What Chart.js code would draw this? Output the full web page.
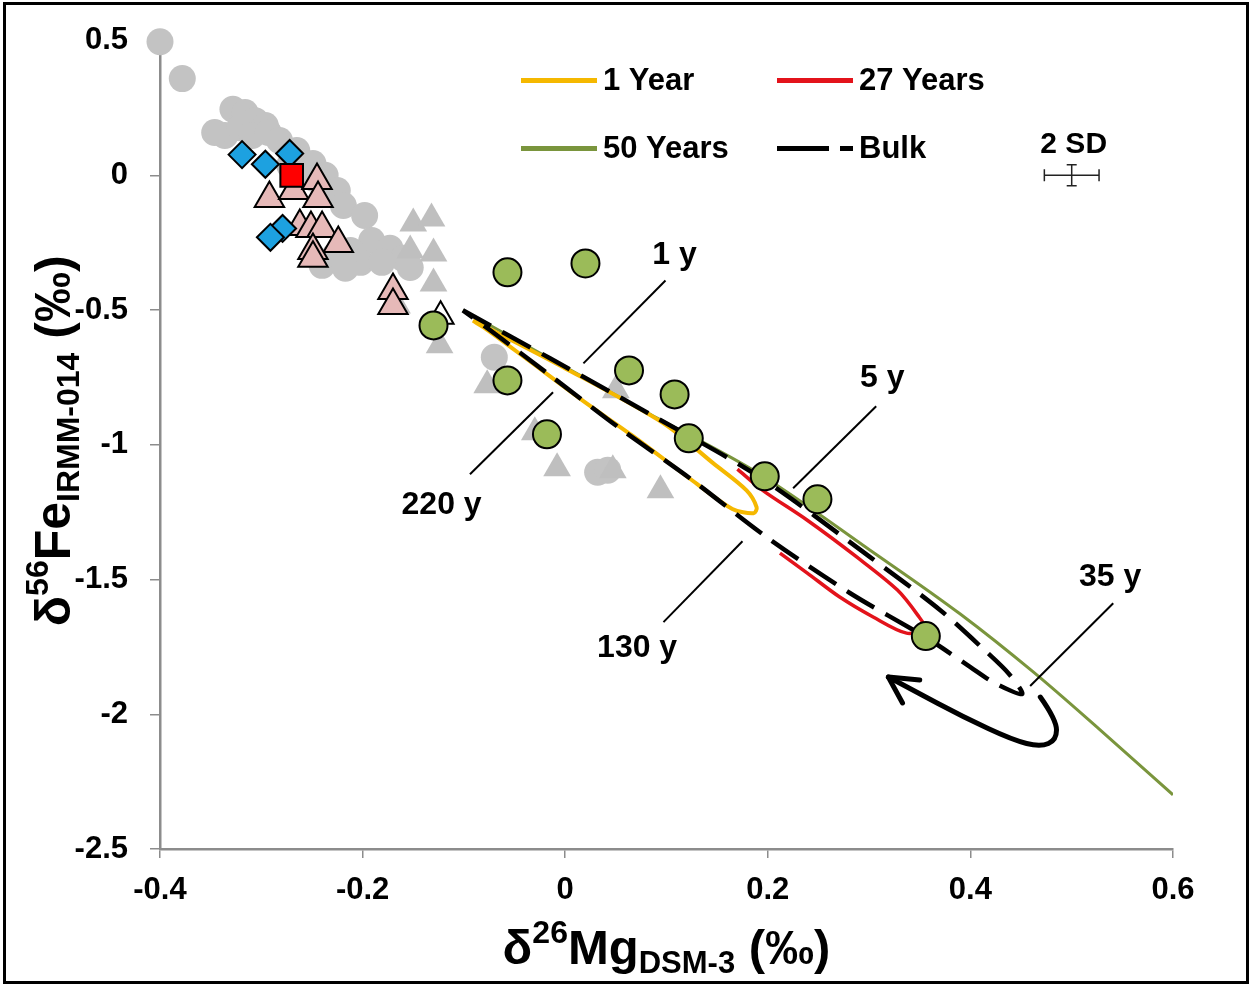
<!DOCTYPE html>
<html>
<head>
<meta charset="utf-8">
<script src="https://cdn.jsdelivr.net/npm/chart.js@4.4.1/dist/chart.umd.min.js"></script>
<style>
  html, body { margin: 0; padding: 0; background: #fff; }
  #wrap { width: 1252px; height: 986px; }
</style>
</head>
<body>
<div id="wrap"><canvas id="chart" width="1252" height="986"></canvas></div>
<script>
// samples: x = d26Mg (permil), y = d56Fe (permil)
const grayCircleX = [-0.400, -0.378, -0.328, -0.336, -0.346, -0.316, -0.321, -0.306, -0.296, -0.309, -0.293, -0.282, -0.265, -0.272, -0.249, -0.248, -0.237, -0.225, -0.219, -0.198, -0.191, -0.173, -0.160, -0.212, -0.202, -0.227, -0.240, -0.217, -0.181, -0.153, -0.070, 0.032, 0.042];
const grayCircleY = [0.496, 0.359, 0.245, 0.148, 0.159, 0.233, 0.177, 0.203, 0.185, 0.148, 0.159, 0.129, 0.092, 0.037, 0.044, -0.012, 0.000, -0.056, -0.112, -0.149, -0.242, -0.271, -0.308, -0.279, -0.323, -0.297, -0.334, -0.345, -0.323, -0.342, -0.675, -1.102, -1.094];

const grayTriX = [-0.150, -0.132, -0.130, -0.130, -0.153, -0.166, -0.124, -0.077, 0.050, -0.030, -0.008, 0.047, 0.094];
const grayTriY = [-0.179, -0.160, -0.290, -0.401, -0.279, -0.483, -0.631, -0.779, -0.798, -0.953, -1.087, -1.094, -1.169];

const pinkTriX = [-0.292, -0.268, -0.245, -0.244, -0.262, -0.251, -0.240, -0.224, -0.249, -0.249, -0.170, -0.170];
const pinkTriY = [-0.086, -0.056, -0.019, -0.086, -0.190, -0.197, -0.197, -0.253, -0.279, -0.308, -0.427, -0.483];

const blueDiamondX = [-0.319, -0.296, -0.272, -0.279, -0.291];
const blueDiamondY = [0.077, 0.041, 0.081, -0.197, -0.230];

const redSquareX = [-0.27];
const redSquareY = [0.0];

const whiteTriX = [-0.123];
const whiteTriY = [-0.523];

const greenCircleX = [-0.130, -0.057, 0.020, -0.057, -0.018, 0.063, 0.108, 0.122, 0.197, 0.249, 0.356];
const greenCircleY = [-0.557, -0.360, -0.327, -0.761, -0.961, -0.724, -0.813, -0.976, -1.117, -1.202, -1.710];

// model curves
const year1X = [-0.091, -0.002, 0.097, 0.146, 0.179, 0.189, 0.186, 0.165, 0.130, 0.067, 0.018, -0.035, -0.080, -0.091];
const year1Y = [-0.538, -0.712, -0.920, -1.068, -1.169, -1.232, -1.254, -1.238, -1.145, -0.968, -0.838, -0.690, -0.565, -0.540];

const year27X = [0.170, 0.195, 0.239, 0.288, 0.328, 0.348, 0.355, 0.337, 0.304, 0.271, 0.239, 0.212];
const year27Y = [-1.090, -1.169, -1.280, -1.417, -1.539, -1.632, -1.680, -1.699, -1.639, -1.565, -1.476, -1.402];

const year50X = [-0.101, -0.005, 0.084, 0.192, 0.301, 0.390, 0.462, 0.528, 0.600];
const year50Y = [-0.501, -0.701, -0.887, -1.109, -1.391, -1.628, -1.843, -2.058, -2.299];

const bulkX = [-0.101, -0.015, 0.084, 0.192, 0.301, 0.370, 0.414, 0.439, 0.451, 0.424, 0.400, 0.357, 0.281, 0.199, 0.123, 0.054, -0.015, -0.074, -0.101];
const bulkY = [-0.501, -0.679, -0.887, -1.120, -1.417, -1.613, -1.762, -1.854, -1.925, -1.884, -1.825, -1.717, -1.550, -1.343, -1.124, -0.939, -0.742, -0.575, -0.501];

// age annotations and their leader lines
const ageLabels = ['1 y', '220 y', '5 y', '130 y', '35 y'];
const ageLabelX = [0.108, -0.122, 0.313, 0.071, 0.538];
const ageLabelY = [-0.297, -1.224, -0.753, -1.754, -1.491];
const leaderFromX = [0.099, -0.094, 0.307, 0.097, 0.541];
const leaderFromY = [-0.390, -1.109, -0.857, -1.658, -1.588];
const leaderToX = [0.018, -0.012, 0.225, 0.175, 0.459];
const leaderToY = [-0.698, -0.805, -1.161, -1.358, -1.895];

// curved arrow near the bulk tip
const arrowX = [0.469, 0.485, 0.485, 0.469, 0.442, 0.393, 0.343, 0.319];
const arrowY = [-1.936, -2.021, -2.096, -2.121, -2.096, -2.010, -1.910, -1.862];
const arrowHeadX = [0.350, 0.333];
const arrowHeadY = [-1.873, -1.958];

// 2 SD error bar
const sdX = 0.5, sdY = 0.0, sdErrX = 0.027, sdErrY = 0.039;

const xTicks = [-0.4, -0.2, 0, 0.2, 0.4, 0.6];
const yTicks = [0.5, 0, -0.5, -1, -1.5, -2, -2.5];

const FONT = '"Liberation Sans", Arial, sans-serif';
const pts = (xs, ys) => xs.map((x, i) => ({ x, y: ys[i] }));

function marker(label, data, style, order) {
  return Object.assign({ type: 'scatter', label, data, order, clip: false, showLine: false }, style);
}
function curve(label, data, color, width, dash, order, monotone) {
  return {
    type: 'line', label, data, order, borderColor: color, borderWidth: width,
    borderDash: dash || [], pointRadius: 0, tension: 0.3, fill: false,
    cubicInterpolationMode: monotone ? 'monotone' : 'default'
  };
}

function drawRich(ctx, parts, x, y) {
  let total = 0;
  parts.forEach(p => {
    ctx.font = 'bold ' + p.size + 'px ' + FONT;
    p.w = ctx.measureText(p.t).width;
    total += p.w;
  });
  let cx = x - total / 2;
  ctx.textAlign = 'left';
  ctx.textBaseline = 'alphabetic';
  parts.forEach(p => {
    ctx.font = 'bold ' + p.size + 'px ' + FONT;
    ctx.fillText(p.t, cx, y + (p.dy || 0));
    cx += p.w;
  });
}

function smoothPath(ctx, P) {
  ctx.moveTo(P[0][0], P[0][1]);
  for (let i = 1; i < P.length - 1; i++) {
    const mx = (P[i][0] + P[i + 1][0]) / 2, my = (P[i][1] + P[i + 1][1]) / 2;
    ctx.quadraticCurveTo(P[i][0], P[i][1], mx, my);
  }
  const L = P[P.length - 1];
  ctx.lineTo(L[0], L[1]);
}

const overlay = {
  id: 'overlay',
  afterDatasetsDraw(chart) {
    const { ctx, chartArea: a, scales: { x, y } } = chart;
    ctx.save();
    ctx.fillStyle = '#000';
    ctx.strokeStyle = '#000';

    // leader lines + labels
    ctx.lineWidth = 2;
    ageLabels.forEach((t, i) => {
      ctx.beginPath();
      ctx.moveTo(x.getPixelForValue(leaderFromX[i]), y.getPixelForValue(leaderFromY[i]));
      ctx.lineTo(x.getPixelForValue(leaderToX[i]), y.getPixelForValue(leaderToY[i]));
      ctx.stroke();
      ctx.font = 'bold 32px ' + FONT;
      ctx.textAlign = 'center';
      ctx.textBaseline = 'middle';
      ctx.fillText(t, x.getPixelForValue(ageLabelX[i]), y.getPixelForValue(ageLabelY[i]));
    });

    // curved arrow
    const P = arrowX.map((v, i) => [x.getPixelForValue(v), y.getPixelForValue(arrowY[i])]);
    ctx.lineWidth = 5;
    ctx.lineCap = 'round';
    ctx.lineJoin = 'round';
    ctx.beginPath();
    smoothPath(ctx, P);
    ctx.stroke();
    const tip = P[P.length - 1];
    ctx.beginPath();
    ctx.moveTo(x.getPixelForValue(arrowHeadX[0]), y.getPixelForValue(arrowHeadY[0]));
    ctx.lineTo(tip[0], tip[1]);
    ctx.lineTo(x.getPixelForValue(arrowHeadX[1]), y.getPixelForValue(arrowHeadY[1]));
    ctx.stroke();

    // 2 SD bar
    const cx = x.getPixelForValue(sdX), cy = y.getPixelForValue(sdY);
    const x0 = x.getPixelForValue(sdX - sdErrX), x1 = x.getPixelForValue(sdX + sdErrX);
    const y0 = y.getPixelForValue(sdY + sdErrY), y1 = y.getPixelForValue(sdY - sdErrY);
    ctx.lineWidth = 1.5;
    ctx.lineCap = 'butt';
    ctx.strokeStyle = '#222';
    ctx.beginPath();
    ctx.moveTo(x0, cy); ctx.lineTo(x1, cy);
    ctx.moveTo(x0, cy - 6); ctx.lineTo(x0, cy + 6);
    ctx.moveTo(x1, cy - 6); ctx.lineTo(x1, cy + 6);
    ctx.moveTo(cx, y0); ctx.lineTo(cx, y1);
    ctx.moveTo(cx - 5, y0); ctx.lineTo(cx + 5, y0);
    ctx.moveTo(cx - 5, y1); ctx.lineTo(cx + 5, y1);
    ctx.stroke();
    ctx.font = 'bold 30px ' + FONT;
    ctx.textAlign = 'center';
    ctx.textBaseline = 'alphabetic';
    ctx.fillText('2 SD', cx + 2, cy - 22);

    // legend
    const items = [
      { t: '1 Year', c: '#F5B800', col: 0, row: 0 },
      { t: '27 Years', c: '#E3131B', col: 1, row: 0 },
      { t: '50 Years', c: '#7A953D', col: 0, row: 1 },
      { t: 'Bulk', c: '#000', col: 1, row: 1, dash: true }
    ];
    items.forEach(it => {
      const lx = a.left + 361 + it.col * 256;
      const ly = a.top + 40 + it.row * 68;
      ctx.strokeStyle = it.c;
      ctx.lineWidth = 5;
      ctx.lineCap = 'butt';
      ctx.beginPath();
      if (it.dash) {
        ctx.moveTo(lx, ly); ctx.lineTo(lx + 52, ly);
        ctx.moveTo(lx + 63, ly); ctx.lineTo(lx + 76, ly);
      } else {
        ctx.moveTo(lx, ly); ctx.lineTo(lx + 76, ly);
      }
      ctx.stroke();
      ctx.font = 'bold 31px ' + FONT;
      ctx.textAlign = 'left';
      ctx.textBaseline = 'middle';
      ctx.fillStyle = '#000';
      ctx.fillText(it.t, lx + 82, ly + 1);
    });
    ctx.restore();
  },
  afterDraw(chart) {
    const { ctx, chartArea: a } = chart;
    ctx.save();
    ctx.fillStyle = '#000';
    // axis titles
    drawRich(ctx, [
      { t: 'δ', size: 49 }, { t: '26', size: 32, dy: -21 }, { t: 'Mg', size: 49 },
      { t: 'DSM-3', size: 31, dy: 9 }, { t: ' (‰)', size: 49 }
    ], (a.left + a.right) / 2, 964);
    ctx.translate(70, (a.top + a.bottom) / 2 - 4);
    ctx.rotate(-Math.PI / 2);
    drawRich(ctx, [
      { t: 'δ', size: 50 }, { t: '56', size: 32, dy: -22 }, { t: 'Fe', size: 50 },
      { t: 'IRMM-014', size: 32, dy: 9 }, { t: ' (‰)', size: 50 }
    ], 0, 0);
    ctx.restore();
    // frame
    ctx.save();
    ctx.strokeStyle = '#000';
    ctx.lineWidth = 3;
    ctx.strokeRect(4.5, 3.5, 1243, 979);
    ctx.restore();
  }
};

const fmt = v => {
  const r = Math.round(v * 10) / 10;
  return r === 0 ? '0' : String(r);
};

new Chart(document.getElementById('chart'), {
  type: 'scatter',
  data: {
    datasets: [
      marker('Green', pts(greenCircleX, greenCircleY),
        { pointStyle: 'circle', pointRadius: 14, backgroundColor: '#9BBB59', borderColor: '#000', borderWidth: 2 }, 0),
      curve('Bulk', pts(bulkX, bulkY), '#000', 4.5, [32, 13], 1),
      curve('27 Years', pts(year27X, year27Y), '#E3131B', 3.5, null, 2),
      curve('1 Year', pts(year1X, year1Y), '#F5B800', 4, null, 3),
      curve('50 Years', pts(year50X, year50Y), '#7A953D', 3, null, 4, true),
      marker('White', pts(whiteTriX, whiteTriY),
        { pointStyle: 'triangle', pointRadius: 15, backgroundColor: '#fff', borderColor: '#000', borderWidth: 2 }, 5),
      marker('Red', pts(redSquareX, redSquareY),
        { pointStyle: 'rect', pointRadius: 16, backgroundColor: '#FF0000', borderColor: '#000', borderWidth: 2 }, 6),
      marker('Blue', pts(blueDiamondX, blueDiamondY),
        { pointStyle: 'rectRot', pointRadius: 13.5, backgroundColor: '#1DA1E0', borderColor: '#000', borderWidth: 2 }, 7),
      marker('Pink', pts(pinkTriX, pinkTriY),
        { pointStyle: 'triangle', pointRadius: 17, backgroundColor: '#E6B9B8', borderColor: '#000', borderWidth: 2 }, 8),
      marker('GrayTri', pts(grayTriX, grayTriY),
        { pointStyle: 'triangle', pointRadius: 16, backgroundColor: '#BFBFBF', borderColor: '#BFBFBF', borderWidth: 0 }, 9),
      marker('GrayCircle', pts(grayCircleX, grayCircleY),
        { pointStyle: 'circle', pointRadius: 13.5, backgroundColor: '#C3C3C3', borderColor: '#C3C3C3', borderWidth: 0 }, 10)
    ]
  },
  options: {
    responsive: false,
    animation: false,
    events: [],
    layout: { padding: { top: 40, right: 79, left: 0, bottom: 0 } },
    plugins: { legend: { display: false }, tooltip: { enabled: false } },
    scales: {
      x: {
        type: 'linear', min: -0.4, max: 0.6,
        afterBuildTicks: s => { s.ticks = xTicks.map(v => ({ value: v })); },
        afterFit: s => { s.height = 137; },
        grid: { drawOnChartArea: false, drawTicks: true, tickLength: 9, color: '#8C8C8C', lineWidth: 1.5 },
        border: { color: '#8C8C8C', width: 2.5 },
        ticks: { callback: fmt, padding: 14, color: '#000', font: { family: FONT, size: 31, weight: 'bold' }, maxRotation: 0 }
      },
      y: {
        type: 'linear', min: -2.5, max: 0.5,
        afterBuildTicks: s => { s.ticks = yTicks.map(v => ({ value: v })); },
        afterFit: s => { s.width = 160; },
        grid: { drawOnChartArea: false, drawTicks: true, tickLength: 10, color: '#8C8C8C', lineWidth: 1.5 },
        border: { color: '#8C8C8C', width: 2.5 },
        ticks: { callback: fmt, padding: 22, color: '#000', font: { family: FONT, size: 31, weight: 'bold' } }
      }
    }
  },
  plugins: [overlay]
});
</script>
</body>
</html>
